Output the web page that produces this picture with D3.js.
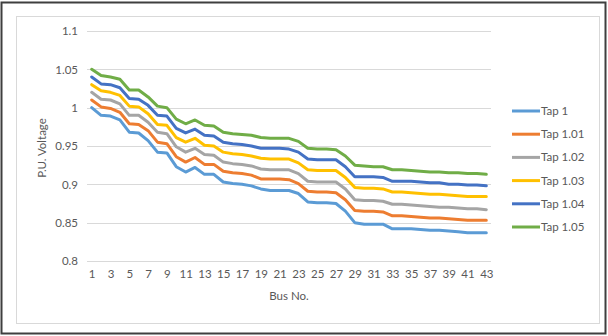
<!DOCTYPE html>
<html>
<head>
<meta charset="utf-8">
<script src="https://cdn.jsdelivr.net/npm/d3@7"></script>
<style>
  html, body { margin: 0; padding: 0; background: #fff; }
  svg { display: block; }
  text { font-family: Lato, "Open Sans", "Liberation Sans", sans-serif; fill: #595959; }
</style>
</head>
<body>
<svg id="chart" width="608" height="336"></svg>
<script>
// Bus numbers 1..43
const buses = d3.range(1, 44);

// P.U. voltage profile for each transformer tap setting
const tap100 = [1.000, 0.990, 0.989, 0.984, 0.968, 0.967, 0.957, 0.942, 0.941, 0.923,
  0.916, 0.922, 0.913, 0.913, 0.903, 0.901, 0.900, 0.898, 0.894, 0.892,
  0.892, 0.892, 0.888, 0.877, 0.876, 0.876, 0.875, 0.865, 0.850, 0.848,
  0.848, 0.848, 0.842, 0.842, 0.842, 0.841, 0.840, 0.840, 0.839, 0.838,
  0.837, 0.837, 0.837];
const tap101 = [1.010, 1.001, 0.999, 0.994, 0.979, 0.978, 0.970, 0.955, 0.953, 0.936,
  0.929, 0.935, 0.926, 0.926, 0.917, 0.915, 0.914, 0.912, 0.907, 0.907,
  0.907, 0.906, 0.901, 0.891, 0.890, 0.890, 0.889, 0.880, 0.866, 0.865,
  0.865, 0.864, 0.859, 0.859, 0.858, 0.857, 0.856, 0.856, 0.855, 0.854,
  0.853, 0.853, 0.853];
const tap102 = [1.020, 1.011, 1.010, 1.005, 0.990, 0.990, 0.981, 0.968, 0.966, 0.949,
  0.942, 0.947, 0.939, 0.938, 0.929, 0.927, 0.926, 0.924, 0.920, 0.919,
  0.919, 0.919, 0.914, 0.904, 0.903, 0.903, 0.903, 0.894, 0.880, 0.879,
  0.879, 0.878, 0.874, 0.874, 0.873, 0.872, 0.871, 0.870, 0.870, 0.869,
  0.868, 0.868, 0.867];
const tap103 = [1.030, 1.022, 1.020, 1.016, 1.002, 1.001, 0.992, 0.978, 0.977, 0.961,
  0.955, 0.960, 0.951, 0.950, 0.942, 0.940, 0.939, 0.937, 0.934, 0.933,
  0.933, 0.933, 0.928, 0.919, 0.918, 0.918, 0.918, 0.909, 0.896, 0.895,
  0.895, 0.894, 0.890, 0.890, 0.889, 0.888, 0.887, 0.887, 0.886, 0.885,
  0.884, 0.884, 0.884];
const tap104 = [1.040, 1.031, 1.030, 1.026, 1.012, 1.011, 1.003, 0.990, 0.989, 0.973,
  0.967, 0.972, 0.964, 0.963, 0.955, 0.953, 0.952, 0.950, 0.947, 0.947,
  0.947, 0.946, 0.942, 0.933, 0.932, 0.932, 0.932, 0.923, 0.910, 0.910,
  0.910, 0.909, 0.904, 0.904, 0.904, 0.903, 0.902, 0.902, 0.900, 0.900,
  0.899, 0.899, 0.898];
const tap105 = [1.050, 1.042, 1.040, 1.037, 1.023, 1.023, 1.014, 1.002, 1.000, 0.985,
  0.979, 0.984, 0.977, 0.976, 0.968, 0.966, 0.965, 0.964, 0.961, 0.960,
  0.960, 0.960, 0.956, 0.947, 0.946, 0.946, 0.945, 0.937, 0.925, 0.924,
  0.923, 0.923, 0.919, 0.919, 0.918, 0.917, 0.916, 0.916, 0.915, 0.915,
  0.914, 0.914, 0.913];

const seriesNames = ["Tap 1", "Tap 1.01", "Tap 1.02", "Tap 1.03", "Tap 1.04", "Tap 1.05"];
const seriesValues = [tap100, tap101, tap102, tap103, tap104, tap105];
const seriesColors = ["#5B9BD5", "#ED7D31", "#A5A5A5", "#FFC000", "#4472C4", "#70AD47"];

const yTicks = [0.8, 0.85, 0.9, 0.95, 1, 1.05, 1.1];
const xTickBuses = buses.filter(b => b % 2 === 1);

const svg = d3.select("#chart");

// outer frame and chart-area border
svg.append("rect").attr("x", 1.5).attr("y", 2.5).attr("width", 604).attr("height", 331)
  .attr("fill", "#fff").attr("stroke", "#3f3f3f").attr("stroke-width", 2);
svg.append("rect").attr("x", 16.5).attr("y", 16.5).attr("width", 583).attr("height", 307)
  .attr("fill", "#fff").attr("stroke", "#d9d9d9").attr("stroke-width", 1);

const plot = { left: 87, right: 491, top: 31, bottom: 261 };

const x = d3.scalePoint().domain(buses).range([plot.left, plot.right]).padding(0.5);
const y = d3.scaleLinear().domain([0.8, 1.1]).range([plot.bottom, plot.top]);

// horizontal gridlines
svg.append("g")
  .selectAll("line").data(yTicks).join("line")
  .attr("x1", plot.left).attr("x2", plot.right)
  .attr("y1", d => Math.round(y(d)) + 0.5).attr("y2", d => Math.round(y(d)) + 0.5)
  .attr("stroke", "#d9d9d9").attr("stroke-width", 1);

// y axis labels
const yAxis = d3.axisLeft(y).tickValues(yTicks).tickSize(0).tickPadding(0)
  .tickFormat(d => d3.format("")(+d.toFixed(2)));
const gy = svg.append("g").attr("transform", `translate(${plot.left - 9},0)`).call(yAxis);
gy.select(".domain").remove();
gy.selectAll("text").attr("font-size", 11.5).attr("fill", "#595959")
  .style("font-family", "Lato, 'Open Sans', sans-serif");

// x axis labels
const xAxis = d3.axisBottom(x).tickValues(xTickBuses).tickSize(0).tickPadding(0);
const gx = svg.append("g").attr("transform", `translate(0,${plot.bottom + 9})`).call(xAxis);
gx.select(".domain").remove();
gx.selectAll("text").attr("font-size", 11.5).attr("fill", "#595959")
  .style("font-family", "Lato, 'Open Sans', sans-serif");

// axis titles
svg.append("text").attr("x", (plot.left + plot.right) / 2).attr("y", 300)
  .attr("text-anchor", "middle").attr("font-size", 11.5).text("Bus No.");
svg.append("text")
  .attr("transform", `translate(46,${(plot.top + plot.bottom) / 2 + 2}) rotate(-90)`)
  .attr("text-anchor", "middle").attr("font-size", 11.5).text("P.U. Voltage");

// voltage profile lines
const line = d3.line().x((d, i) => x(buses[i])).y(d => y(d));
svg.append("g").selectAll("path").data(seriesValues).join("path")
  .attr("d", d => line(d))
  .attr("fill", "none")
  .attr("stroke", (d, i) => seriesColors[i])
  .attr("stroke-width", 3)
  .attr("stroke-linejoin", "round")
  .attr("stroke-linecap", "round");

// legend
const legend = svg.append("g").selectAll("g").data(seriesNames).join("g")
  .attr("transform", (d, i) => `translate(512,${111 + i * 23.2})`);
legend.append("line").attr("x1", 0).attr("x2", 28).attr("y1", 0).attr("y2", 0)
  .attr("stroke", (d, i) => seriesColors[i]).attr("stroke-width", 3);
legend.append("text").attr("x", 29).attr("y", 4).attr("font-size", 11.5).text(d => d);
</script>
</body>
</html>
